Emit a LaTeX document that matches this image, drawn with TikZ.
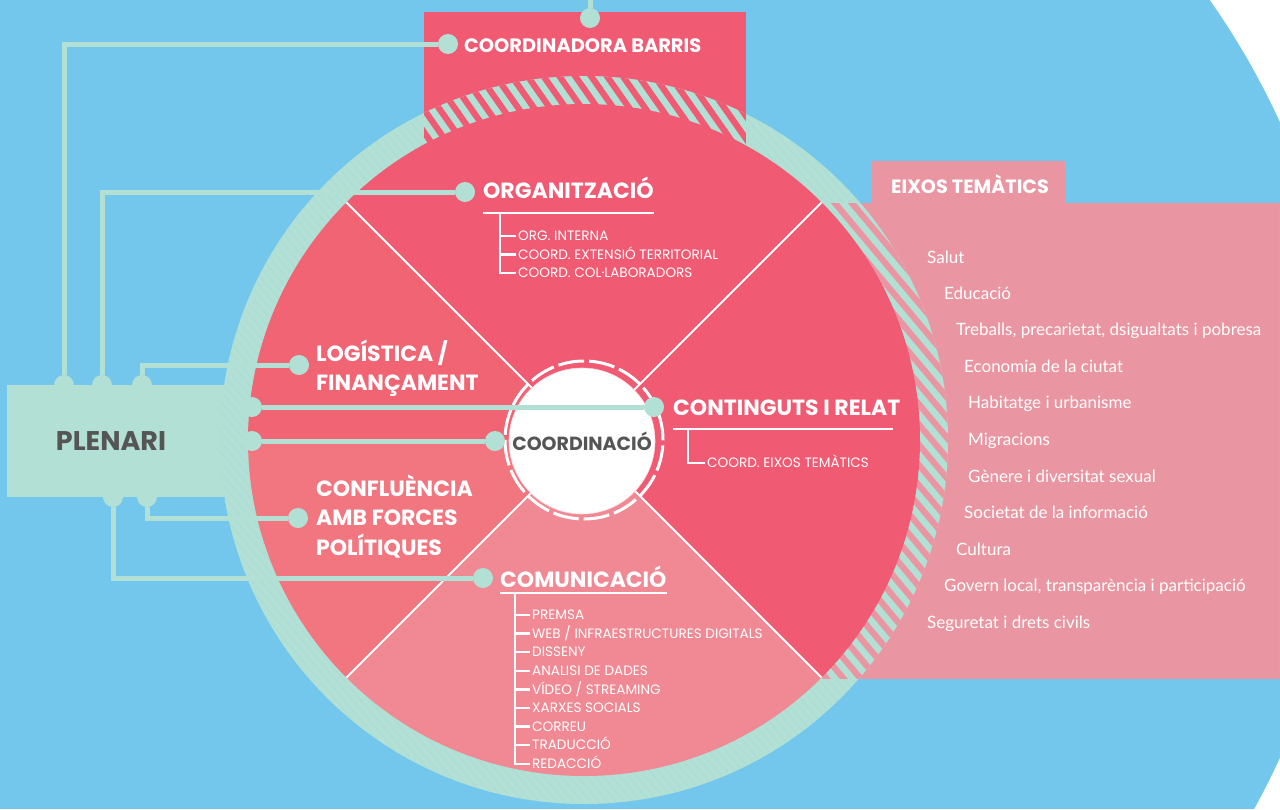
\documentclass[tikz,border=0pt]{standalone}
\usepackage{fontspec}
\setmainfont{Poppins}
\newfontfamily\listfont{Lato}
\usetikzlibrary{positioning}
\definecolor{sky}{HTML}{74C7EC}
\definecolor{mint}{HTML}{B3E0D4}
\definecolor{redtop}{HTML}{F05A72}
\definecolor{redleft}{HTML}{F06474}
\definecolor{redlow}{HTML}{F27680}
\definecolor{pinkcom}{HTML}{F08993}
\definecolor{pinkbox}{HTML}{EA96A2}
\definecolor{greytxt}{HTML}{555555}

\tikzset{
  conn/.style={draw=mint, line width=5pt},
  dot/.style={circle, fill=mint, minimum size=20pt, inner sep=0pt},
  head/.style={anchor=base west, inner sep=0pt, text=white, font=\bfseries\fontsize{22}{26}\selectfont},
  subitem/.style={anchor=west, inner xsep=2pt, inner ysep=0pt, text height=9.5pt, text depth=0pt, text=white, font=\fontsize{13.6}{16}\selectfont},
  tree/.style={draw=white, line width=2.5pt},
  theme/.style={anchor=base west, inner sep=0pt, text=white, font=\listfont\fontsize{17}{20}\selectfont},
  stripe/.style={draw=mint, line width=6.5pt},
  faint/.style={draw=mint!80!sky, line width=0.5pt},
}

\begin{document}
\begin{tikzpicture}[x=1pt, y=1pt]
  \useasboundingbox (0,0) rectangle (1280,-809);
  \fill[sky] (0,0) rectangle (1280,-809);
  \coordinate (c) at (584,-440);
  % white margin on the right
  \begin{scope}
    \clip (1100,0) rectangle (1280,-809);
    \fill[white, even odd rule] (1000,100) rectangle (1400,-900) (c) circle (765);
  \end{scope}

  % boxes behind the wheel
  \fill[redtop] (424,-12) rectangle (746,-250);
  \fill[pinkbox] (872,-161) rectangle (1065,-204);
  \fill[pinkbox] (800,-203) rectangle (1279,-679);
  \node[fill=mint, minimum width=243pt, minimum height=112pt, anchor=north west, inner sep=0pt] (plenari) at (7,-385) {};

  % ring
  \fill[mint] (c) circle (364);
  \begin{scope}
    \clip (c) circle (364);
    \begin{scope}[shift={(c)}, rotate=40]
      \foreach \k in {-60,...,60} \draw[faint] (\k*6.5,-380) -- (\k*6.5,380);
    \end{scope}
  \end{scope}
  \begin{scope}
    \clip (c) circle (364);
    \clip (424,-12) rectangle (746,-250);
    \fill[redtop] (424,-12) rectangle (746,-250);
    \begin{scope}[shift={(c)}, rotate=35]
      \foreach \k in {-40,...,40} \draw[stripe] (\k*13,-400) -- (\k*13,400);
    \end{scope}
  \end{scope}
  \begin{scope}
    \clip (c) circle (364);
    \clip (800,-203) rectangle (1279,-679);
    \fill[pinkbox] (800,-203) rectangle (1279,-679);
    \begin{scope}[shift={(c)}, rotate=40]
      \foreach \k in {-40,...,40} \draw[stripe] (\k*13,-400) -- (\k*13,400);
    \end{scope}
  \end{scope}

  % sectors
  \fill[redtop] (c) -- ++(45:336) arc[start angle=45, end angle=135, radius=336] -- cycle;
  \fill[redleft] (c) -- ++(135:336) arc[start angle=135, end angle=180, radius=336] -- cycle;
  \fill[redlow] (c) -- ++(180:336) arc[start angle=180, end angle=225, radius=336] -- cycle;
  \fill[pinkcom] (c) -- ++(225:336) arc[start angle=225, end angle=315, radius=336] -- cycle;
  \fill[redtop] (c) -- ++(-45:336) arc[start angle=-45, end angle=45, radius=336] -- cycle;
  \foreach \a in {45,135,225,315} \draw[white, line width=2pt] (c) -- ++(\a:336);

  % centre
  \node[circle, fill=white, draw=redtop!25, line width=0.6pt, minimum size=146pt, inner sep=0pt,
        text=greytxt, font=\bfseries\fontsize{19}{22}\selectfont] (coord) at (582,-441) {COORDINACIÓ};
  \draw[white, line width=3pt, dash pattern=on 26pt off 5pt] (c) circle (79);

  % dots
  \node[dot] (dcb) at (448,-44) {};
  \node[dot] (dtop) at (590,-18) {};
  \coordinate (topend) at (590,0);
  \node[dot] (dorg) at (465,-192) {};
  \node[dot] (dlog) at (299,-365) {};
  \node[dot] (dcon) at (654,-407) {};
  \node[dot] (dcoo) at (495,-441) {};
  \node[dot] (dcnf) at (298,-518) {};
  \node[dot] (dcom) at (483,-578) {};
  \node[dot] (p1) at (64,-385) {};
  \node[dot] (p2) at (102,-385) {};
  \node[dot] (p3) at (142,-385) {};
  \node[dot] (p4) at (252,-407) {};
  \node[dot] (p5) at (252,-441) {};
  \node[dot] (p6) at (113,-497) {};
  \node[dot] (p7) at (147,-497) {};

  \draw[conn] (p1) |- (dcb);
  \draw[conn] (p2) |- (dorg);
  \draw[conn] (p3) |- (dlog);
  \draw[conn] (p4) -- (dcon);
  \draw[conn] (p5) -- (dcoo);
  \draw[conn] (p7) |- (dcnf);
  \draw[conn] (p6) |- (dcom);
  \draw[conn] (dtop) -- (topend);

  \node[text=greytxt, font=\bfseries\fontsize{27}{30}\selectfont] (plenaritxt) at (111,-441) {PLENARI};

  % headings
  \node[head, font=\bfseries\fontsize{19.4}{22}\selectfont] (cb) at (464,-52) {COORDINADORA BARRIS};
  \node[head] (org) at (483,-198) {ORGANITZACIÓ};
  \node[head] (log1) at (316,-361) {LOGÍSTICA /};
  \node[head, below=29pt of log1.base west, anchor=base west] (log2) {FINANÇAMENT};
  \node[head] (cont) at (673,-415) {CONTINGUTS I RELAT};
  \node[head] (cnf1) at (316,-496) {CONFLUÈNCIA};
  \node[head, below=29.5pt of cnf1.base west, anchor=base west] (cnf2) {AMB FORCES};
  \node[head, below=29.5pt of cnf2.base west, anchor=base west] (cnf3) {POLÍTIQUES};
  \node[head] (com) at (500,-587) {COMUNICACIÓ};

  % organització
  \draw[tree] ([yshift=-15pt]org.base west) -- ([yshift=-15pt]org.base east);
  \coordinate (otrunk) at ([xshift=17pt, yshift=-15pt]org.base west);
  \node[subitem] (o1) at (516,-236) {ORG. INTERNA};
  \node[subitem, below=8.5pt of o1.south west, anchor=north west] (o2) {COORD. EXTENSIÓ TERRITORIAL};
  \node[subitem, below=8.5pt of o2.south west, anchor=north west] (o3) {COORD. COL·LABORADORS};
  \foreach \i in {1,2,3} \draw[tree] (otrunk) |- (o\i.west);

  % continguts
  \draw[tree] ([yshift=-14pt]cont.base west) -- ++(220,0);
  \coordinate (ctrunk) at ([xshift=15pt, yshift=-14pt]cont.base west);
  \node[subitem] (k1) at (705,-463) {COORD. EIXOS TEMÀTICS};
  \draw[tree] (ctrunk) |- (k1.west);

  % comunicació
  \draw[tree] ([yshift=-6pt]com.base west) -- ([yshift=-6pt]com.base east);
  \coordinate (mtrunk) at ([xshift=15pt, yshift=-6pt]com.base west);
  \node[subitem] (m1) at (530,-615) {PREMSA};
  \node[subitem, below=8.7pt of m1.south west, anchor=north west] (m2) {WEB / INFRAESTRUCTURES DIGITALS};
  \node[subitem, below=8.7pt of m2.south west, anchor=north west] (m3) {DISSENY};
  \node[subitem, below=8.7pt of m3.south west, anchor=north west] (m4) {ANALISI DE DADES};
  \node[subitem, below=8.7pt of m4.south west, anchor=north west] (m5) {VÍDEO / STREAMING};
  \node[subitem, below=8.7pt of m5.south west, anchor=north west] (m6) {XARXES SOCIALS};
  \node[subitem, below=8.7pt of m6.south west, anchor=north west] (m7) {CORREU};
  \node[subitem, below=8.7pt of m7.south west, anchor=north west] (m8) {TRADUCCIÓ};
  \node[subitem, below=8.7pt of m8.south west, anchor=north west] (m9) {REDACCIÓ};
  \foreach \i in {1,...,9} \draw[tree] (mtrunk) |- (m\i.west);

  % eixos temàtics
  \node[head, font=\bfseries\fontsize{19.2}{22}\selectfont] (eixos) at (891,-193) {EIXOS TEMÀTICS};
  \node[theme] (t1) at (927,-263) {Salut};
  \node[theme] (t2) at (944,-299) {Educació};
  \node[theme] (t3) at (956,-335) {Treballs, precarietat, dsigualtats i pobresa};
  \node[theme] (t4) at (964,-372) {Economia de la ciutat};
  \node[theme] (t5) at (968,-408) {Habitatge i urbanisme};
  \node[theme] (t6) at (968,-445) {Migracions};
  \node[theme] (t7) at (968,-482) {Gènere i diversitat sexual};
  \node[theme] (t8) at (964,-518) {Societat de la informació};
  \node[theme] (t9) at (956,-555) {Cultura};
  \node[theme] (t10) at (944,-591) {Govern local, transparència i participació};
  \node[theme] (t11) at (927,-628) {Seguretat i drets civils};
\end{tikzpicture}
\end{document}
